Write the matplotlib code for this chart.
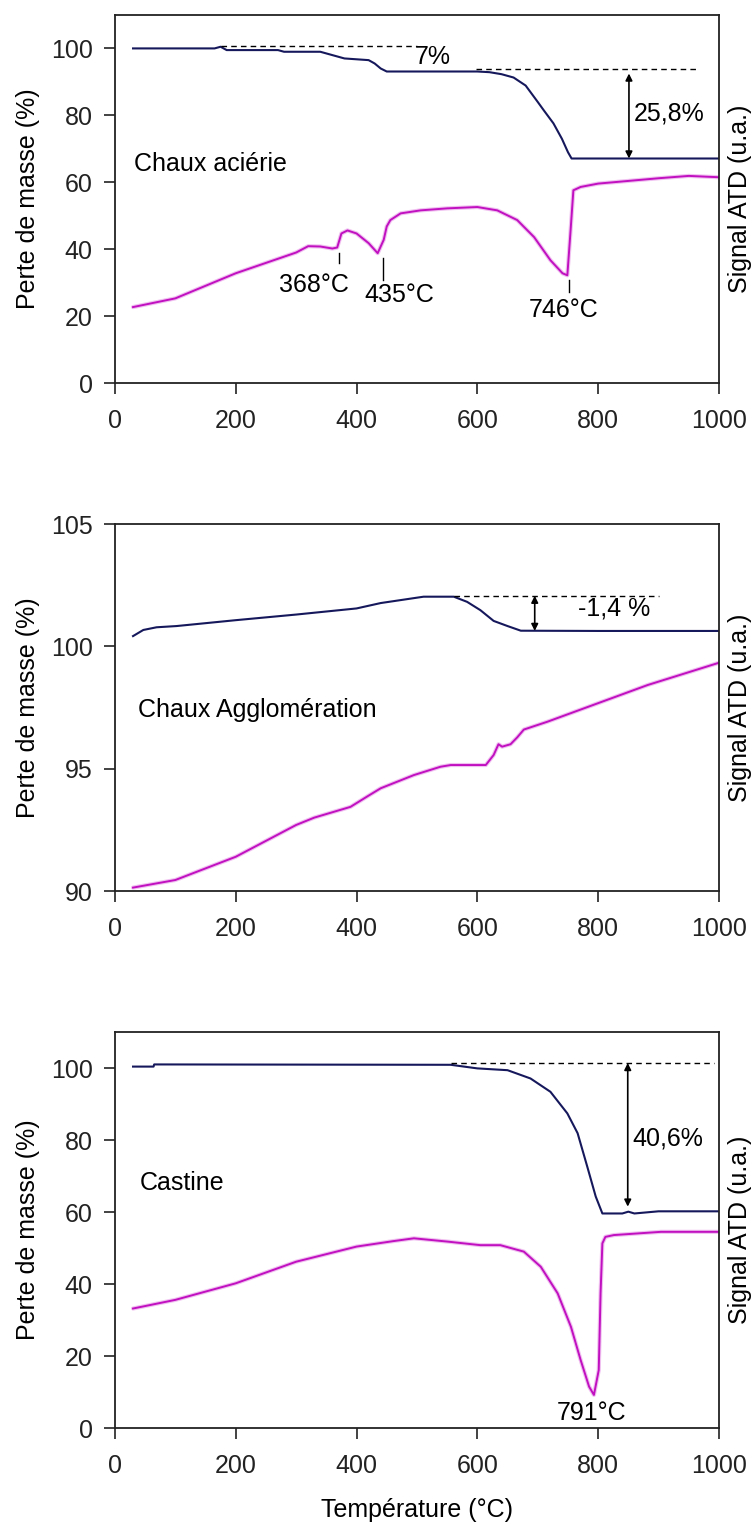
import numpy as np
import matplotlib.pyplot as plt

plt.rcParams['font.family'] = ['Liberation Sans', 'DejaVu Sans']

navy = '#16185c'
magenta = '#c010c0'

# Chaux aciérie
t1_tg = [30, 100, 165, 175, 185, 270, 280, 340, 360, 380, 420, 430, 440, 450, 600, 620, 640, 660, 680, 700, 710, 726, 740, 750, 756, 800, 900, 1000]
m1_tg = [100, 100, 100, 100.5, 99.5, 99.5, 99, 99, 98, 97, 96.5, 95.5, 94, 93.1, 93.1, 92.9, 92.3, 91.3, 88.9, 84, 81.5, 77.6, 73, 69, 67.1, 67.1, 67.1, 67.1]
t1_atd = [30, 100, 200, 300, 320, 340, 360, 368, 375, 385, 400, 420, 435, 445, 450, 456, 473, 506, 550, 600, 633, 666, 694, 721, 741, 749, 754, 759, 771, 800, 900, 950, 1000]
s1_atd = [22.7, 25.3, 32.8, 39, 40.9, 40.8, 40.2, 40.5, 44.7, 45.6, 44.7, 41.8, 38.8, 42.8, 46.8, 48.7, 50.7, 51.6, 52.2, 52.6, 51.6, 48.7, 43.6, 36.7, 32.8, 32.2, 44.7, 57.6, 58.6, 59.6, 61.2, 61.9, 61.5]

# Chaux Agglomération
t2_tg = [30, 47, 69, 102, 200, 300, 400, 440, 511, 561, 583, 605, 627, 650, 672, 800, 1000]
m2_tg = [100.42, 100.67, 100.78, 100.83, 101.07, 101.3, 101.55, 101.77, 102.03, 102.03, 101.82, 101.48, 101.04, 100.83, 100.64, 100.63, 100.63]
t2_atd = [30, 100, 200, 300, 330, 390, 420, 440, 495, 539, 556, 614, 627, 635, 641, 655, 666, 677, 716, 799, 882, 1000]
s2_atd = [90.14, 90.45, 91.4, 92.7, 93.0, 93.44, 93.9, 94.2, 94.74, 95.08, 95.15, 95.15, 95.56, 96.0, 95.9, 96.0, 96.28, 96.6, 96.92, 97.67, 98.42, 99.33]

# Castine
t3_tg = [30, 64, 65, 556, 600, 650, 688, 721, 749, 766, 782, 796, 807, 840, 850, 860, 900, 1000]
m3_tg = [100.4, 100.4, 101, 100.9, 99.9, 99.4, 97.1, 93.4, 87.4, 81.9, 72.6, 64.3, 59.6, 59.6, 60.1, 59.6, 60.2, 60.2]
t3_atd = [30, 100, 200, 300, 400, 460, 495, 550, 605, 638, 677, 705, 733, 755, 771, 785, 793, 801, 804, 807, 812, 826, 904, 1000]
s3_atd = [33.2, 35.6, 40.2, 46.2, 50.4, 51.9, 52.7, 51.8, 50.8, 50.8, 49.0, 44.8, 37.4, 28.1, 18.9, 11.5, 9.2, 16.1, 37.4, 51.3, 53.1, 53.6, 54.5, 54.5]

fs = 18
fig = plt.figure(figsize=(7.56, 15.26), dpi=100)
ax1 = fig.add_axes([0.152, 0.749, 0.799, 0.2412])
ax2 = fig.add_axes([0.152, 0.4161, 0.799, 0.2405])
ax3 = fig.add_axes([0.152, 0.0642, 0.799, 0.2595])


def style(ax, ylim, yticks):
    ax.set_xlim(0, 1000)
    ax.set_ylim(*ylim)
    ax.set_xticks([0, 200, 400, 600, 800, 1000])
    ax.set_yticks(yticks)
    ax.tick_params(direction='out', length=8, width=1.2, labelsize=fs, colors='#222222')
    ax.tick_params(axis='x', pad=11)
    ax.tick_params(axis='y', pad=8)
    for sp in ax.spines.values():
        sp.set_linewidth(1.3)
        sp.set_color('#222222')
    ax.text(-0.144, 0.5, 'Perte de masse (%)', rotation=90, fontsize=fs,
            ha='center', va='center', transform=ax.transAxes)
    ax.text(1.035, 0.5, 'Signal ATD (u.a.)', rotation=90, fontsize=fs,
            ha='center', va='center', transform=ax.transAxes)


def curves(ax, t_tg, m_tg, t_atd, s_atd):
    ax.plot(t_atd, s_atd, color='#f0c0f0', lw=3, solid_capstyle='round')
    ax.plot(t_atd, s_atd, color=magenta, lw=1.4)
    ax.plot(t_tg, m_tg, color=navy, lw=1.5)


def arrow(ax, x, y0, y1):
    ax.annotate('', xy=(x, y1), xytext=(x, y0),
                arrowprops=dict(arrowstyle='<|-|>', color='black', lw=1.2,
                                mutation_scale=10, shrinkA=0, shrinkB=0))


def dashed(ax, x0, x1, y):
    ax.plot([x0, x1], [y, y], color='black', lw=1, dashes=(4, 3))


# panel 1
curves(ax1, t1_tg, m1_tg, t1_atd, s1_atd)
style(ax1, (0, 110), [0, 20, 40, 60, 80, 100])
dashed(ax1, 175, 500, 100.6)
dashed(ax1, 597, 962, 93.7)
arrow(ax1, 851, 92.5, 67.1)
ax1.text(526, 97.3, '7%', fontsize=fs, ha='center', va='center')
ax1.text(859, 80.6, '25,8%', fontsize=fs, ha='left', va='center')
ax1.text(32, 65.4, 'Chaux aciérie', fontsize=fs, ha='left', va='center')
ax1.plot([371, 371], [39, 35.8], 'k-', lw=1)
ax1.plot([444, 444], [37.3, 30.7], 'k-', lw=1)
ax1.plot([751, 751], [30.7, 27.2], 'k-', lw=1)
ax1.text(329, 29.3, '368°C', fontsize=fs, ha='center', va='center')
ax1.text(470, 26.3, '435°C', fontsize=fs, ha='center', va='center')
ax1.text(743, 21.8, '746°C', fontsize=fs, ha='center', va='center')

# panel 2
curves(ax2, t2_tg, m2_tg, t2_atd, s2_atd)
style(ax2, (90, 105), [90, 95, 100, 105])
dashed(ax2, 561, 901, 102.07)
arrow(ax2, 695, 102.07, 100.63)
ax2.text(826, 101.55, '-1,4 %', fontsize=fs, ha='center', va='center')
ax2.text(38, 97.4, 'Chaux Agglomération', fontsize=fs, ha='left', va='center')

# panel 3
curves(ax3, t3_tg, m3_tg, t3_atd, s3_atd)
style(ax3, (0, 110), [0, 20, 40, 60, 80, 100])
dashed(ax3, 556, 992, 101.4)
arrow(ax3, 849, 101.4, 61.5)
ax3.text(857, 80.5, '40,6%', fontsize=fs, ha='left', va='center')
ax3.text(41, 68, 'Castine', fontsize=fs, ha='left', va='center')
ax3.text(789, 4.1, '791°C', fontsize=fs, ha='center', va='center')
ax3.set_xlabel('Température (°C)', fontsize=fs, va='center')
ax3.xaxis.set_label_coords(0.5, -(1510 - 1428) / 396)

fig.savefig('out.png', dpi=100)
